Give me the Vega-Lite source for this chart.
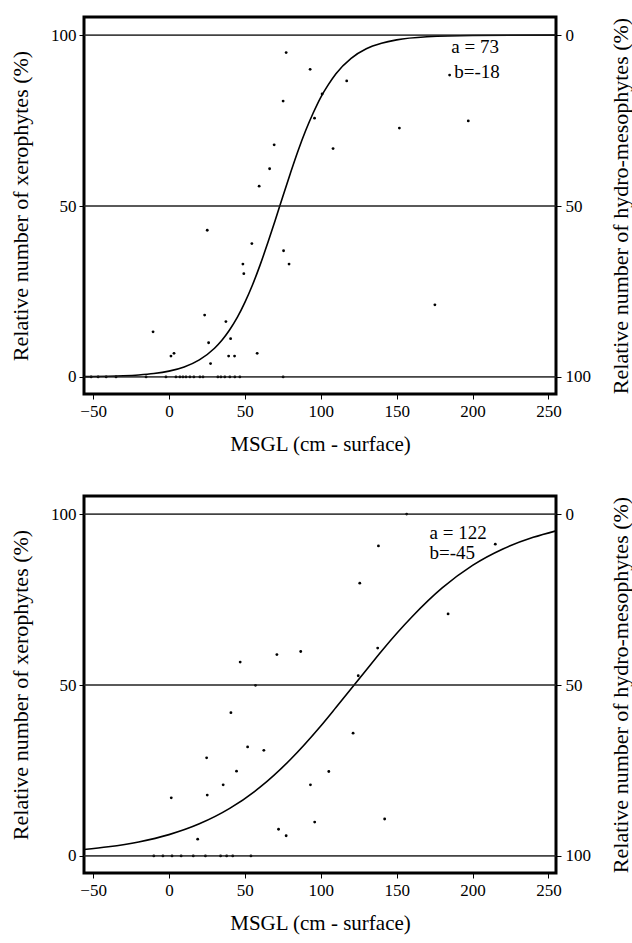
{
"$schema": "https://vega.github.io/schema/vega-lite/v6.json",
"padding": {"left": 8, "top": 15, "right": 0, "bottom": 0},
"background": "white",
"config": {
  "font": "Liberation Serif",
  "view": {"stroke": "black", "strokeWidth": 3},
  "text": {"font": "Liberation Serif"},
  "axis": {"labelFont": "Liberation Serif", "titleFont": "Liberation Serif", "grid": false, "domain": false, "tickColor": "black", "tickSize": 5, "labelColor": "black", "labelFontSize": 17, "titleFontSize": 22, "titleFontWeight": "normal", "titleColor": "black"}
},
"datasets": {
  "lines": [{"v": 0}, {"v": 50}, {"v": 100}],
  "topCurve": [
    {"x": -56, "y": 0.08}, {"x": -50, "y": 0.11}, {"x": -40, "y": 0.19}, {"x": -30, "y": 0.33}, {"x": -20, "y": 0.57}, {"x": -10, "y": 0.98}, {"x": 0, "y": 1.7}, {"x": 10, "y": 2.93}, {"x": 20, "y": 5.0}, {"x": 30, "y": 8.4}, {"x": 35, "y": 10.8}, {"x": 40, "y": 13.8}, {"x": 45, "y": 17.4}, {"x": 50, "y": 21.8}, {"x": 55, "y": 26.9}, {"x": 60, "y": 32.7}, {"x": 65, "y": 39.1}, {"x": 70, "y": 45.8}, {"x": 75, "y": 52.8}, {"x": 80, "y": 59.6}, {"x": 85, "y": 66.1}, {"x": 90, "y": 72.0}, {"x": 95, "y": 77.2}, {"x": 100, "y": 81.8}, {"x": 105, "y": 85.5}, {"x": 110, "y": 88.7}, {"x": 120, "y": 93.2}, {"x": 130, "y": 96.0}, {"x": 140, "y": 97.6}, {"x": 150, "y": 98.6}, {"x": 170, "y": 99.5}, {"x": 200, "y": 99.9}, {"x": 255, "y": 100}
  ],
  "botCurve": [
    {"x": -56, "y": 1.88}, {"x": -40, "y": 2.66}, {"x": -20, "y": 4.09}, {"x": 0, "y": 6.23}, {"x": 20, "y": 9.39}, {"x": 40, "y": 13.9}, {"x": 60, "y": 20.1}, {"x": 80, "y": 28.2}, {"x": 100, "y": 38.0}, {"x": 110, "y": 43.4}, {"x": 122, "y": 50}, {"x": 130, "y": 54.4}, {"x": 140, "y": 59.9}, {"x": 160, "y": 69.9}, {"x": 180, "y": 78.4}, {"x": 200, "y": 85.0}, {"x": 220, "y": 89.8}, {"x": 240, "y": 93.2}, {"x": 255, "y": 95.1}
  ],
  "topPts": [
    {"x": 77.2, "y": 94.9}, {"x": 93.0, "y": 90.0}, {"x": 117.1, "y": 86.6}, {"x": 100.9, "y": 82.8}, {"x": 75.2, "y": 80.7}, {"x": 95.9, "y": 75.7}, {"x": 151.8, "y": 72.8}, {"x": 197.2, "y": 74.9}, {"x": 69.3, "y": 67.9}, {"x": 108.1, "y": 66.8}, {"x": 66.3, "y": 60.9}, {"x": 59.4, "y": 55.8}, {"x": 25.2, "y": 42.9}, {"x": 54.6, "y": 39.0}, {"x": 75.5, "y": 36.9}, {"x": 48.7, "y": 33.0}, {"x": 49.3, "y": 30.2}, {"x": 79.1, "y": 33.0}, {"x": 175.2, "y": 21.1}, {"x": 23.5, "y": 18.1}, {"x": 37.5, "y": 16.2}, {"x": -10.5, "y": 13.2}, {"x": 26.1, "y": 10.0}, {"x": 40.6, "y": 11.2}, {"x": 1.3, "y": 6.1}, {"x": 3.3, "y": 6.9}, {"x": 39.3, "y": 6.1}, {"x": 43.2, "y": 6.1}, {"x": 58.1, "y": 6.9}, {"x": 27.4, "y": 3.9}, {"x": 184.9, "y": 88.3},
    {"x": -51.3, "y": 0}, {"x": -46.7, "y": 0}, {"x": -41.4, "y": 0}, {"x": -34.9, "y": 0}, {"x": -15.1, "y": 0}, {"x": -2.0, "y": 0}, {"x": 4.6, "y": 0}, {"x": 7.2, "y": 0}, {"x": 9.2, "y": 0}, {"x": 11.2, "y": 0}, {"x": 13.8, "y": 0}, {"x": 16.4, "y": 0}, {"x": 20.4, "y": 0}, {"x": 22.4, "y": 0}, {"x": 32.2, "y": 0}, {"x": 34.2, "y": 0}, {"x": 36.8, "y": 0}, {"x": 40.1, "y": 0}, {"x": 43.4, "y": 0}, {"x": 46.7, "y": 0}, {"x": 75.2, "y": 0}
  ],
  "botPts": [
    {"x": 156.6, "y": 100}, {"x": 138.0, "y": 90.7}, {"x": 215, "y": 91.2}, {"x": 125.7, "y": 79.8}, {"x": 183.9, "y": 70.8}, {"x": 137.5, "y": 60.8}, {"x": 46.9, "y": 56.7}, {"x": 71.1, "y": 58.9}, {"x": 86.8, "y": 59.8}, {"x": 124.7, "y": 52.7}, {"x": 57, "y": 49.9}, {"x": 40.8, "y": 41.9}, {"x": 121.3, "y": 35.9}, {"x": 51.8, "y": 31.9}, {"x": 62.5, "y": 30.9}, {"x": 24.8, "y": 28.7}, {"x": 44.5, "y": 24.8}, {"x": 105.3, "y": 24.7}, {"x": 35.7, "y": 20.8}, {"x": 93.2, "y": 20.8}, {"x": 25.2, "y": 17.8}, {"x": 1.5, "y": 17.0}, {"x": 96, "y": 9.9}, {"x": 142.1, "y": 10.8}, {"x": 72.2, "y": 7.8}, {"x": 77.2, "y": 5.9}, {"x": 18.9, "y": 4.9},
    {"x": -10, "y": 0}, {"x": -4, "y": 0}, {"x": 2, "y": 0}, {"x": 8, "y": 0}, {"x": 16, "y": 0}, {"x": 24, "y": 0}, {"x": 34, "y": 0}, {"x": 38, "y": 0}, {"x": 42, "y": 0}, {"x": 54, "y": 0}
  ],
  "topText": [{"x": 186, "y": 96.5, "t": "a = 73"}, {"x": 188, "y": 89.2, "t": "b=-18"}],
  "botText": [{"x": 171.7, "y": 94.4, "t": "a = 122"}, {"x": 171.7, "y": 88.6, "t": "b=-45"}]
},
"spacing": 38,
"vconcat": [
  {
    "width": 472, "height": 377,
    "resolve": {"axis": {"y": "independent"}},
    "layer": [
      {"data": {"name": "lines"}, "mark": {"type": "rule", "stroke": "#222", "strokeWidth": 1},
       "encoding": {"y": {"field": "v", "type": "quantitative", "scale": {"domain": [-5, 105.3], "nice": false, "zero": false}, "axis": {"values": [0, 50, 100], "title": "Relative number of xerophytes (%)", "labelFont": "Liberation Serif", "titleFont": "Liberation Serif", "labelFontSize": 17, "titleFontSize": 22, "titlePadding": 18, "labelPadding": 3}}}},
      {"data": {"name": "topCurve"}, "mark": {"type": "line", "color": "black", "strokeWidth": 1.6, "interpolate": "monotone"},
       "encoding": {"x": {"field": "x", "type": "quantitative", "scale": {"domain": [-56, 255], "nice": false, "zero": false}, "axis": {"values": [-50, 0, 50, 100, 150, 200, 250], "title": "MSGL (cm - surface)", "labelFont": "Liberation Serif", "titleFont": "Liberation Serif", "labelFontSize": 17, "titleFontSize": 21, "titlePadding": 14, "labelPadding": 4}},
                    "y": {"field": "y", "type": "quantitative", "axis": null}}},
      {"data": {"name": "topPts"}, "mark": {"type": "circle", "color": "black", "size": 8, "opacity": 1},
       "encoding": {"x": {"field": "x", "type": "quantitative"}, "y": {"field": "y", "type": "quantitative", "axis": null}}},
      {"data": {"name": "topText"}, "mark": {"type": "text", "align": "left", "baseline": "middle", "fontSize": 19, "font": "Liberation Serif", "color": "black"},
       "encoding": {"x": {"field": "x", "type": "quantitative"}, "y": {"field": "y", "type": "quantitative", "axis": null}, "text": {"field": "t"}}},
      {"data": {"name": "lines"}, "mark": {"type": "rule", "stroke": "#222", "strokeWidth": 1},
       "encoding": {"y": {"field": "v", "type": "quantitative", "axis": {"orient": "right", "values": [0, 50, 100], "labelExpr": "100 - datum.value", "title": "Relative number of hydro-mesophytes (%)", "labelFont": "Liberation Serif", "titleFont": "Liberation Serif", "labelFontSize": 17, "titleFontSize": 22, "titleAngle": 270, "titlePadding": 42, "labelPadding": 4}}}}
    ]
  },
  {
    "width": 472, "height": 377,
    "resolve": {"axis": {"y": "independent"}},
    "layer": [
      {"data": {"name": "lines"}, "mark": {"type": "rule", "stroke": "#222", "strokeWidth": 1},
       "encoding": {"y": {"field": "v", "type": "quantitative", "scale": {"domain": [-5, 105.3], "nice": false, "zero": false}, "axis": {"values": [0, 50, 100], "title": "Relative number of xerophytes (%)", "labelFont": "Liberation Serif", "titleFont": "Liberation Serif", "labelFontSize": 17, "titleFontSize": 22, "titlePadding": 18, "labelPadding": 3}}}},
      {"data": {"name": "botCurve"}, "mark": {"type": "line", "color": "black", "strokeWidth": 1.6, "interpolate": "monotone"},
       "encoding": {"x": {"field": "x", "type": "quantitative", "scale": {"domain": [-56, 255], "nice": false, "zero": false}, "axis": {"values": [-50, 0, 50, 100, 150, 200, 250], "title": "MSGL (cm - surface)", "labelFont": "Liberation Serif", "titleFont": "Liberation Serif", "labelFontSize": 17, "titleFontSize": 21, "titlePadding": 14, "labelPadding": 4}},
                    "y": {"field": "y", "type": "quantitative", "axis": null}}},
      {"data": {"name": "botPts"}, "mark": {"type": "circle", "color": "black", "size": 8, "opacity": 1},
       "encoding": {"x": {"field": "x", "type": "quantitative"}, "y": {"field": "y", "type": "quantitative", "axis": null}}},
      {"data": {"name": "botText"}, "mark": {"type": "text", "align": "left", "baseline": "middle", "fontSize": 19, "font": "Liberation Serif", "color": "black"},
       "encoding": {"x": {"field": "x", "type": "quantitative"}, "y": {"field": "y", "type": "quantitative", "axis": null}, "text": {"field": "t"}}},
      {"data": {"name": "lines"}, "mark": {"type": "rule", "stroke": "#222", "strokeWidth": 1},
       "encoding": {"y": {"field": "v", "type": "quantitative", "axis": {"orient": "right", "values": [0, 50, 100], "labelExpr": "100 - datum.value", "title": "Relative number of hydro-mesophytes (%)", "labelFont": "Liberation Serif", "titleFont": "Liberation Serif", "labelFontSize": 17, "titleFontSize": 22, "titleAngle": 270, "titlePadding": 42, "labelPadding": 4}}}}
    ]
  }
]
}
